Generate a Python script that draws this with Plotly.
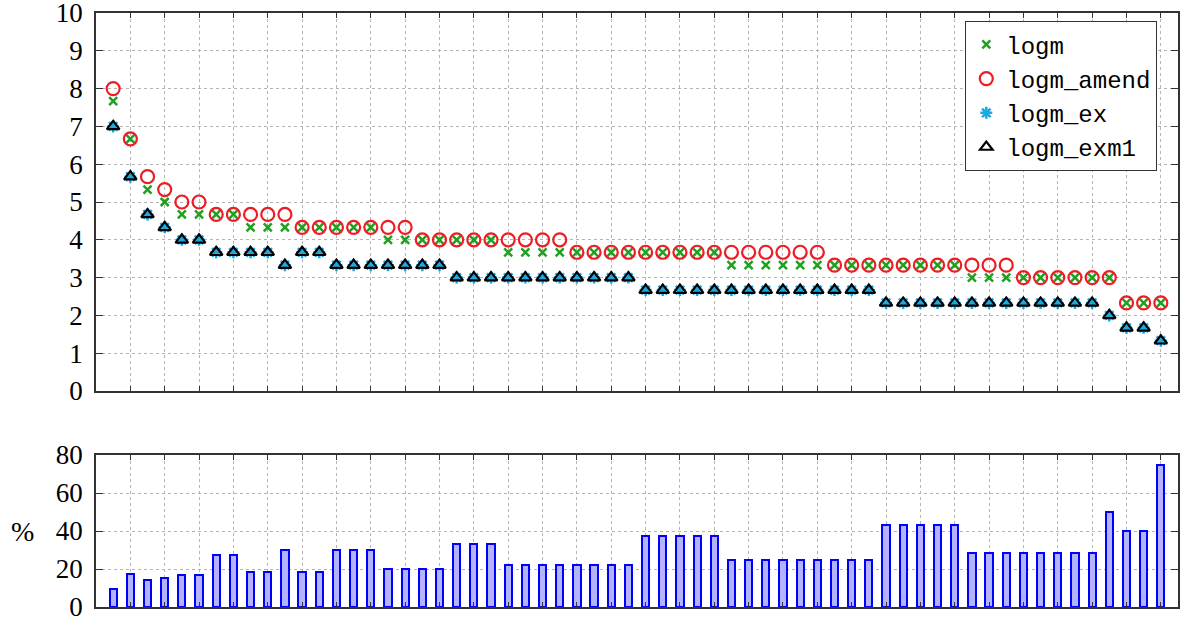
import plotly.graph_objects as go

idx = list(range(1, 63))

logm = [7.67, 6.67, 5.33, 5, 4.67, 4.67, 4.67, 4.67, 4.33, 4.33,
        4.33, 4.33, 4.33, 4.33, 4.33, 4.33, 4, 4, 4, 4,
        4, 4, 4, 3.67, 3.67, 3.67, 3.67, 3.67, 3.67, 3.67,
        3.67, 3.67, 3.67, 3.67, 3.67, 3.67, 3.33, 3.33, 3.33, 3.33,
        3.33, 3.33, 3.33, 3.33, 3.33, 3.33, 3.33, 3.33, 3.33, 3.33,
        3, 3, 3, 3, 3, 3, 3, 3, 3, 2.33,
        2.33, 2.33]

logm_amend = [8, 6.67, 5.67, 5.33, 5, 5, 4.67, 4.67, 4.67, 4.67,
              4.67, 4.33, 4.33, 4.33, 4.33, 4.33, 4.33, 4.33, 4, 4,
              4, 4, 4, 4, 4, 4, 4, 3.67, 3.67, 3.67,
              3.67, 3.67, 3.67, 3.67, 3.67, 3.67, 3.67, 3.67, 3.67, 3.67,
              3.67, 3.67, 3.33, 3.33, 3.33, 3.33, 3.33, 3.33, 3.33, 3.33,
              3.33, 3.33, 3.33, 3, 3, 3, 3, 3, 3, 2.33,
              2.33, 2.33]

logm_ex = [7, 5.67, 4.67, 4.33, 4, 4, 3.67, 3.67, 3.67, 3.67,
           3.33, 3.67, 3.67, 3.33, 3.33, 3.33, 3.33, 3.33, 3.33, 3.33,
           3, 3, 3, 3, 3, 3, 3, 3, 3, 3,
           3, 2.67, 2.67, 2.67, 2.67, 2.67, 2.67, 2.67, 2.67, 2.67,
           2.67, 2.67, 2.67, 2.67, 2.67, 2.33, 2.33, 2.33, 2.33, 2.33,
           2.33, 2.33, 2.33, 2.33, 2.33, 2.33, 2.33, 2.33, 2, 1.67,
           1.67, 1.33]

logm_exm1 = list(logm_ex)

percent = [9.5, 17.6, 14.3, 15.4, 16.7, 16.7, 27.3, 27.3, 18.2, 18.2,
           30, 18.2, 18.2, 30, 30, 30, 20, 20, 20, 20,
           33.3, 33.3, 33.3, 22.2, 22.2, 22.2, 22.2, 22.2, 22.2, 22.2,
           22.2, 37.5, 37.5, 37.5, 37.5, 37.5, 25, 25, 25, 25,
           25, 25, 25, 25, 25, 42.9, 42.9, 42.9, 42.9, 42.9,
           28.6, 28.6, 28.6, 28.6, 28.6, 28.6, 28.6, 28.6, 50, 40,
           40, 75]

y_ticks_top = list(range(0, 11))
y_ticks_bot = [0, 20, 40, 60, 80]
x_grid = list(range(2, 63, 2))

SERIF = "Liberation Serif"
MONO = "Liberation Mono"
AXCOL = "#333333"
GRIDCOL = "#b4b4b4"

fig = go.Figure()

fig.add_trace(go.Scatter(
    x=idx, y=logm, mode="markers", name="logm",
    marker=dict(symbol="x-thin-open", size=8, color="#1fa01f",
                line=dict(width=2.5, color="#1fa01f")),
    xaxis="x", yaxis="y"))
fig.add_trace(go.Scatter(
    x=idx, y=logm_amend, mode="markers", name="logm_amend",
    marker=dict(symbol="circle-open", size=13, color="#ee1c25",
                line=dict(width=2.2, color="#ee1c25")),
    xaxis="x", yaxis="y"))
fig.add_trace(go.Scatter(
    x=idx, y=logm_ex, mode="markers", name="logm_ex",
    marker=dict(symbol="asterisk-open", size=10, color="#1aa9e0",
                line=dict(width=2.5, color="#1aa9e0")),
    xaxis="x", yaxis="y"))
fig.add_trace(go.Scatter(
    x=idx, y=logm_exm1, mode="markers", name="logm_exm1",
    marker=dict(symbol="triangle-up-open", size=11, color="black",
                line=dict(width=2.2, color="black")),
    xaxis="x", yaxis="y"))

fig.add_trace(go.Bar(
    x=idx, y=percent, width=0.42, showlegend=False,
    marker=dict(color="#b3b3ff", line=dict(color="#0000ff", width=2)),
    xaxis="x2", yaxis="y2"))

common_x = dict(range=[0, 63], tickvals=x_grid, showticklabels=False,
                showgrid=True, gridcolor=GRIDCOL, griddash="dot", gridwidth=1,
                showline=True, linecolor=AXCOL, linewidth=1.5, mirror="ticks",
                ticks="inside", ticklen=5, tickcolor=AXCOL, zeroline=False,
                automargin=False)

common_y = dict(showgrid=True, gridcolor=GRIDCOL, griddash="dot", gridwidth=1,
                showline=True, linecolor=AXCOL, linewidth=1.5, mirror="ticks",
                ticks="inside", ticklen=7, tickcolor=AXCOL, zeroline=False,
                tickfont=dict(family=SERIF, size=27, color="black"),
                ticklabelstandoff=6, automargin=False,
                ticklabeloverflow="allow")

fig.update_layout(
    width=1185, height=621,
    margin=dict(l=95.5, r=7, t=13, b=14, autoexpand=False),
    paper_bgcolor="white", plot_bgcolor="white",
    xaxis=dict(domain=[0, 1], anchor="y", **common_x),
    xaxis2=dict(domain=[0, 1], anchor="y2", **common_x),
    yaxis=dict(domain=[216 / 594, 1], range=[0, 10], tickvals=y_ticks_top, **common_y),
    yaxis2=dict(domain=[0, 152 / 594], range=[0, 80], tickvals=y_ticks_bot, **common_y),
    legend=dict(x=(1157 - 95.5) / 1082.5, y=586 / 594, xanchor="right", yanchor="top",
                bgcolor="white", bordercolor="#333333", borderwidth=1.3,
                font=dict(family=MONO, size=24, color="black"),
                itemwidth=30, tracegroupgap=0),
    showlegend=True,
    annotations=[dict(text="%", x=(35 - 95.5) / 1082.5, y=(607 - 531) / 594,
                      xref="paper", yref="paper", xanchor="right", yanchor="middle",
                      showarrow=False,
                      font=dict(family=SERIF, size=28, color="black"))],
    bargap=0,
)

fig.write_html("out.html")
